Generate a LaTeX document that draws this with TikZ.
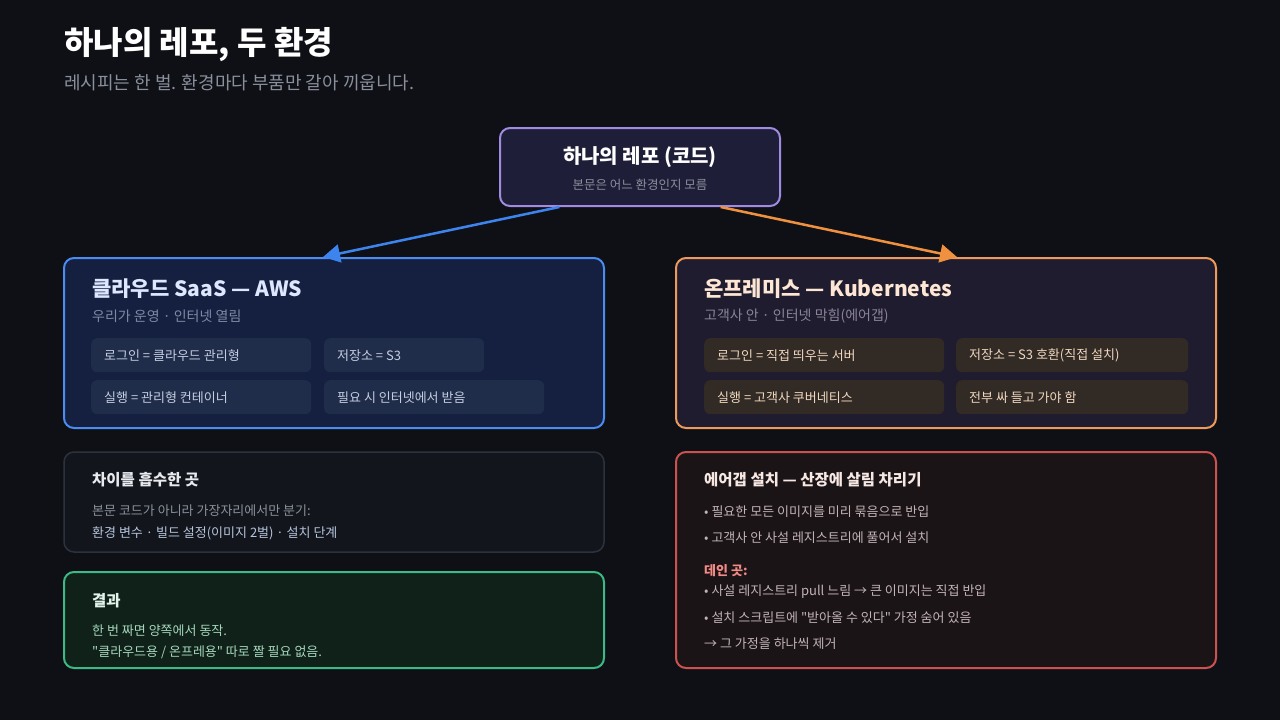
\documentclass[tikz,border=0pt]{standalone}
\usepackage{fontspec}
\setmainfont{Noto Sans CJK KR}
\newfontfamily\kr{Noto Sans CJK KR}
\usetikzlibrary{arrows.meta,calc}
\definecolor{bg}{HTML}{0E1016}
\definecolor{repoFill}{HTML}{1E1E38}
\definecolor{repoLine}{HTML}{A08BE0}
\definecolor{cloudFill}{HTML}{152040}
\definecolor{cloudLine}{HTML}{4A8CF0}
\definecolor{cloudChip}{HTML}{1F2C4A}
\definecolor{cloudTitle}{HTML}{DDE7FF}
\definecolor{cloudSub}{HTML}{7D8AA3}
\definecolor{cloudText}{HTML}{C5CEE0}
\definecolor{premFill}{HTML}{201C30}
\definecolor{premLine}{HTML}{EE9A5A}
\definecolor{premChip}{HTML}{322A24}
\definecolor{premTitle}{HTML}{FDE6D4}
\definecolor{premSub}{HTML}{8A8494}
\definecolor{premText}{HTML}{F0D8C0}
\definecolor{diffFill}{HTML}{12151B}
\definecolor{diffLine}{HTML}{2C323D}
\definecolor{diffTitle}{HTML}{E8EAF0}
\definecolor{diffGray}{HTML}{8B919C}
\definecolor{diffBlue}{HTML}{B6C4DC}
\definecolor{resFill}{HTML}{0F2119}
\definecolor{resLine}{HTML}{3DBA84}
\definecolor{resTitle}{HTML}{E2F4EA}
\definecolor{resText}{HTML}{A6D6BC}
\definecolor{gapFill}{HTML}{1B1417}
\definecolor{gapLine}{HTML}{CC5250}
\definecolor{gapTitle}{HTML}{F7E8E4}
\definecolor{gapText}{HTML}{C2B4B6}
\definecolor{gapRed}{HTML}{F28A86}
\definecolor{arrBlue}{HTML}{3D84EE}
\definecolor{arrOrange}{HTML}{F0913F}
\definecolor{headGray}{HTML}{8A8F9C}
\tikzset{
  every node/.append style={font=\kr},
  panel/.style={rounded corners=10pt, line width=2pt, inner sep=0pt},
  chipbox/.style={rounded corners=6pt, inner sep=0pt, minimum height=34pt, anchor=north west},
  lbl/.style={inner sep=0pt, anchor=west},
  conn/.style={line width=2.5pt, -{Triangle[length=17pt,width=18pt]}}
}
\newcommand{\fs}[1]{\fontsize{#1}{#1}\selectfont}
\begin{document}
\begin{tikzpicture}[x=1pt,y=-1pt]
\fill[bg] (0,0) rectangle (1280,720);
\useasboundingbox (0,0) rectangle (1280,720);

% header
\node[lbl, text=white] (h1) at (64,45) {\fs{32}\bfseries 하나의 레포, 두 환경};
\node[lbl, text=headGray] (h2) at (64,83) {\fs{18}레시피는 한 벌. 환경마다 부품만 갈아 끼웁니다.};

% repo
\node[panel, draw=repoLine, fill=repoFill, minimum width=280pt, minimum height=78pt] (repo) at (640,167) {};
\node[inner sep=0pt, text=white] (repoT) at (640,157) {\fs{20}\bfseries 하나의 레포 (코드)};
\node[inner sep=0pt, text=headGray] (repoS) at (640,185) {\fs{12.5}본문은 어느 환경인지 모름};

% cloud panel
\node[panel, draw=cloudLine, fill=cloudFill, minimum width=540pt, minimum height=170pt] (cloud) at (334,343) {};
\node[lbl, text=cloudTitle] (cloudT) at (92,289) {\fs{21}\bfseries 클라우드 SaaS — AWS};
\node[lbl, text=cloudSub] (cloudS) at (92,316) {\fs{14}우리가 운영 · 인터넷 열림};
\node[chipbox, fill=cloudChip, minimum width=220pt] (c1) at (91,338) {};
\node[chipbox, fill=cloudChip, minimum width=160pt] (c2) at (324,338) {};
\node[chipbox, fill=cloudChip, minimum width=220pt] (c3) at (91,380) {};
\node[chipbox, fill=cloudChip, minimum width=220pt] (c4) at (324,380) {};
\node[lbl, text=cloudText] at ($(c1.west)+(13,0)$) {\fs{13}로그인 = 클라우드 관리형};
\node[lbl, text=cloudText] at ($(c2.west)+(13,0)$) {\fs{13}저장소 = S3};
\node[lbl, text=cloudText] at ($(c3.west)+(13,0)$) {\fs{13}실행 = 관리형 컨테이너};
\node[lbl, text=cloudText] at ($(c4.west)+(13,0)$) {\fs{13}필요 시 인터넷에서 받음};

% on-prem panel
\node[panel, draw=premLine, fill=premFill, minimum width=540pt, minimum height=170pt] (prem) at (946,343) {};
\node[lbl, text=premTitle] (premT) at (704,289) {\fs{21}\bfseries 온프레미스 — Kubernetes};
\node[lbl, text=premSub] (premS) at (704,316) {\fs{14}고객사 안 · 인터넷 막힘(에어갭)};
\node[chipbox, fill=premChip, minimum width=240pt] (p1) at (704,338) {};
\node[chipbox, fill=premChip, minimum width=232pt] (p2) at (956,338) {};
\node[chipbox, fill=premChip, minimum width=240pt] (p3) at (704,380) {};
\node[chipbox, fill=premChip, minimum width=232pt] (p4) at (956,380) {};
\node[lbl, text=premText] at ($(p1.west)+(13,0)$) {\fs{13}로그인 = 직접 띄우는 서버};
\node[lbl, text=premText] at ($(p2.west)+(13,0)$) {\fs{13}저장소 = S3 호환(직접 설치)};
\node[lbl, text=premText] at ($(p3.west)+(13,0)$) {\fs{13}실행 = 고객사 쿠버네티스};
\node[lbl, text=premText] at ($(p4.west)+(13,0)$) {\fs{13}전부 싸 들고 가야 함};

% difference panel
\node[panel, line width=1.5pt, draw=diffLine, fill=diffFill, minimum width=540pt, minimum height=100pt] (diff) at (334,502) {};
\node[lbl, text=diffTitle] (diffT) at (92,480) {\fs{15.5}\bfseries 차이를 흡수한 곳};
\node[lbl, text=diffGray] (diff1) at (92,511) {\fs{13}본문 코드가 아니라 가장자리에서만 분기:};
\node[lbl, text=diffBlue] (diff2) at (92,533) {\fs{13}환경 변수 · 빌드 설정(이미지 2벌) · 설치 단계};

% result panel
\node[panel, draw=resLine, fill=resFill, minimum width=540pt, minimum height=96pt] (res) at (334,620) {};
\node[lbl, text=resTitle] (resT) at (92,601) {\fs{15.5}\bfseries 결과};
\node[lbl, text=resText] (res1) at (92,631) {\fs{13}한 번 짜면 양쪽에서 동작.};
\node[lbl, text=resText] (res2) at (92,652) {\fs{13}"클라우드용 / 온프레용" 따로 짤 필요 없음.};

% air-gap panel
\node[panel, draw=gapLine, fill=gapFill, minimum width=540pt, minimum height=216pt] (gap) at (946,560) {};
\node[lbl, text=gapTitle] (gapT) at (704,480) {\fs{15.5}\bfseries 에어갭 설치 — 산장에 살림 차리기};
\node[lbl, text=gapText] (g1) at (704,512) {\fs{13}• 필요한 모든 이미지를 미리 묶음으로 반입};
\node[lbl, text=gapText] (g2) at (704,538) {\fs{13}• 고객사 안 사설 레지스트리에 풀어서 설치};
\node[lbl, text=gapRed] (g3) at (704,571) {\fs{13}\bfseries 데인 곳:};
\node[lbl, text=gapText] (g4) at (704,592) {\fs{13}• 사설 레지스트리 pull 느림 → 큰 이미지는 직접 반입};
\node[lbl, text=gapText] (g5) at (704,618) {\fs{13}• 설치 스크립트에 "받아올 수 있다" 가정 숨어 있음};
\node[lbl, text=gapText] (g6) at (704,644) {\fs{13}→ 그 가정을 하나씩 제거};

% connectors
\draw[conn, arrBlue] ($(repo.south west)!0.214!(repo.south east)$) -- ($(cloud.north)+(-11,0)$);
\draw[conn, arrOrange] ($(repo.south west)!0.786!(repo.south east)$) -- ($(prem.north)+(11,0)$);
\end{tikzpicture}
\end{document}
